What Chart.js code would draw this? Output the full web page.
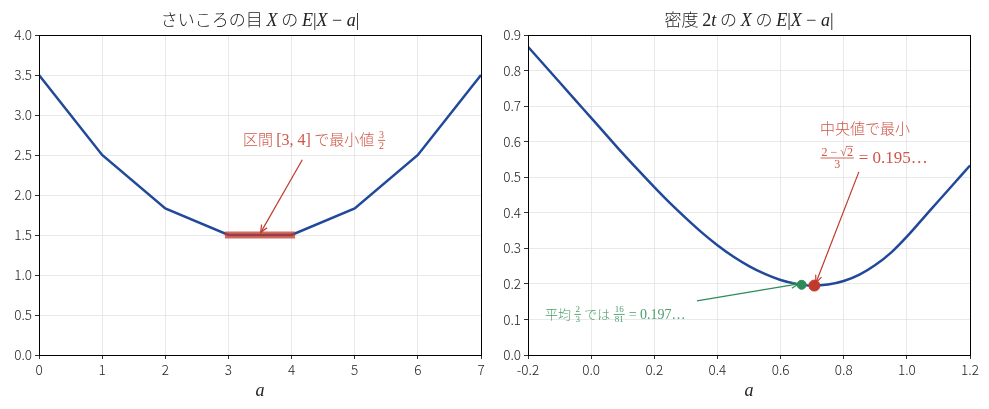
<!DOCTYPE html>
<html>
<head>
<meta charset="utf-8">
<script src="https://cdn.jsdelivr.net/npm/chart.js@4.4.0/dist/chart.umd.min.js"></script>
<style>
    body { margin: 0; background: #fff; }
    .box { position: absolute; top: 0; height: 409px; }
</style>
</head>
<body>
<div class="box" style="left:0;width:494px"><canvas id="left"></canvas></div>
<div class="box" style="left:494px;width:495px"><canvas id="right"></canvas></div>
<script>
// サイコロ: a と E|X-a|
const diceA = [0, 1, 2, 3, 4, 5, 6, 7];
const diceE = [3.5, 2.5, 1.833, 1.5, 1.5, 1.833, 2.5, 3.5];
const diceMinA = [3, 4];
const diceMinE = [1.5, 1.5];
const diceXTicks = [0, 1, 2, 3, 4, 5, 6, 7];
const diceYTicks = [0, 0.5, 1, 1.5, 2, 2.5, 3, 3.5, 4];

// 密度 2t: a と E|X-a|
const densA = [-0.2, -0.15, -0.1, -0.05, 0, 0.05, 0.1, 0.15, 0.2, 0.25, 0.3, 0.35, 0.4, 0.45,
    0.5, 0.55, 0.6, 0.65, 0.7, 0.75, 0.8, 0.85, 0.9, 0.95, 1.0, 1.05, 1.1, 1.15, 1.2];
const densE = [0.867, 0.817, 0.767, 0.717, 0.667, 0.617, 0.567, 0.519, 0.472, 0.427, 0.385, 0.345, 0.309, 0.277,
    0.25, 0.228, 0.211, 0.2, 0.195, 0.198, 0.208, 0.226, 0.253, 0.288, 0.333, 0.383, 0.433, 0.483, 0.533];
const meanPoint = [0.6667, 0.1975];
const medianPoint = [0.7071, 0.1953];
const densXTicks = [-0.2, 0, 0.2, 0.4, 0.6, 0.8, 1.0, 1.2];
const densYTicks = [0, 0.1, 0.2, 0.3, 0.4, 0.5, 0.6, 0.7, 0.8, 0.9];

const BLUE = "#21499a";
const RED = "#c0392b";
const GREEN = "#2e8b57";
const JP = "'Noto Sans CJK JP'";
const SERIF = "'Liberation Serif'";

function pairs(xs, ys) {
    return xs.map((x, i) => ({ x: x, y: ys[i] }));
}

// テキストの並びを描く (文字列 or 分数)
function runWidth(ctx, r) {
    if (r.num) {
        ctx.font = r.font;
        let wn = 0;
        r.num.forEach((s) => { wn += ctx.measureText(s.t).width; });
        let wd = ctx.measureText(r.den).width;
        return Math.max(wn, wd) + 3;
    }
    ctx.font = r.font;
    return ctx.measureText(r.t).width;
}

function drawRuns(ctx, runs, x, y, color, align, axis) {
    let total = 0;
    runs.forEach((r) => { total += runWidth(ctx, r); });
    let cx = align === "center" ? x - total / 2 : x;
    ctx.fillStyle = color;
    ctx.strokeStyle = color;
    ctx.textBaseline = "alphabetic";
    ctx.textAlign = "left";
    runs.forEach((r) => {
        let w = runWidth(ctx, r);
        if (r.num) {
            ctx.font = r.font;
            let bar = y - axis;
            let wn = 0;
            r.num.forEach((s) => { wn += ctx.measureText(s.t).width; });
            let nx = cx + (w - wn) / 2;
            r.num.forEach((s) => {
                let sw = ctx.measureText(s.t).width;
                ctx.fillText(s.t, nx, bar - 2);
                if (s.over) {
                    ctx.lineWidth = 0.8;
                    ctx.beginPath();
                    ctx.moveTo(nx - 1, bar - 2 - r.size * 0.8);
                    ctx.lineTo(nx + sw, bar - 2 - r.size * 0.8);
                    ctx.stroke();
                }
                nx += sw;
            });
            let wd = ctx.measureText(r.den).width;
            ctx.fillText(r.den, cx + (w - wd) / 2, bar + r.size * 0.78 + 1);
            ctx.lineWidth = 0.9;
            ctx.beginPath();
            ctx.moveTo(cx + 0.5, bar);
            ctx.lineTo(cx + w - 0.5, bar);
            ctx.stroke();
        } else {
            ctx.font = r.font;
            ctx.fillText(r.t, cx, y);
        }
        cx += w;
    });
}

function arrow(ctx, x1, y1, x2, y2, color) {
    ctx.strokeStyle = color;
    ctx.lineWidth = 1.2;
    ctx.beginPath();
    ctx.moveTo(x1, y1);
    ctx.lineTo(x2, y2);
    ctx.stroke();
    let ang = Math.atan2(y2 - y1, x2 - x1);
    let len = 8, spread = 0.4;
    ctx.beginPath();
    ctx.moveTo(x2 - len * Math.cos(ang - spread), y2 - len * Math.sin(ang - spread));
    ctx.lineTo(x2, y2);
    ctx.lineTo(x2 - len * Math.cos(ang + spread), y2 - len * Math.sin(ang + spread));
    ctx.stroke();
}

function frameAndLabels(chart, titleRuns) {
    const ctx = chart.ctx;
    const area = chart.chartArea;
    ctx.save();
    ctx.strokeStyle = "#000";
    ctx.lineWidth = 1;
    ctx.strokeRect(Math.round(area.left) + 0.5, Math.round(area.top) + 0.5,
        Math.round(area.right - area.left), Math.round(area.bottom - area.top));
    let mid = (area.left + area.right) / 2;
    drawRuns(ctx, titleRuns, mid, 26, "#222", "center", 5);
    drawRuns(ctx, [{ t: "a", font: "italic 18px " + SERIF }], mid, 396, "#222", "center", 5);
    ctx.restore();
}

function scales(xTicks, yTicks, xmin, xmax, ymax, yWidth, xDigits) {
    const grid = { color: "#e3e3e3", lineWidth: 0.8, tickColor: "#000", tickLength: 4 };
    const tickFont = { family: "Noto Sans CJK JP", size: 13.5, weight: 300 };
    return {
        x: {
            type: "linear", min: xmin, max: xmax,
            border: { display: false },
            grid: grid,
            afterBuildTicks: (s) => { s.ticks = xTicks.map((v) => ({ value: v })); },
            afterFit: (s) => { s.height = 54; },
            ticks: { color: "#222", font: tickFont, padding: 3, callback: (v) => v.toFixed(xDigits) },
        },
        y: {
            type: "linear", min: 0, max: ymax,
            border: { display: false },
            grid: grid,
            afterBuildTicks: (s) => { s.ticks = yTicks.map((v) => ({ value: v })); },
            afterFit: (s) => { s.width = yWidth; },
            ticks: { color: "#222", font: tickFont, padding: 3, callback: (v) => v.toFixed(1) },
        },
    };
}

// 左: サイコロ
const diceTitle = [
    { t: "さいころの目 ", font: "300 17px " + JP },
    { t: "X", font: "italic 18px " + SERIF },
    { t: " の ", font: "300 17px " + JP },
    { t: "E", font: "italic 18px " + SERIF },
    { t: "|", font: "18px " + SERIF },
    { t: "X", font: "italic 18px " + SERIF },
    { t: " − ", font: "18px " + SERIF },
    { t: "a", font: "italic 18px " + SERIF },
    { t: "|", font: "18px " + SERIF },
];

new Chart(document.getElementById("left"), {
    type: "line",
    data: {
        datasets: [
            {
                data: pairs(diceA, diceE),
                borderColor: BLUE, borderWidth: 2.5, pointRadius: 0, order: 2,
            },
            {
                data: pairs(diceMinA, diceMinE),
                borderColor: "rgba(192,57,43,0.75)", borderWidth: 7, borderCapStyle: "square",
                pointRadius: 0, order: 1,
            },
        ],
    },
    options: {
        responsive: true, maintainAspectRatio: false, animation: false,
        layout: { padding: { top: 35, right: 13, left: 0, bottom: 0 } },
        plugins: { legend: { display: false }, tooltip: { enabled: false } },
        scales: scales(diceXTicks, diceYTicks, 0, 7, 4, 39, 0),
    },
    plugins: [{
        id: "decor",
        afterDraw: (chart) => {
            const ctx = chart.ctx, xs = chart.scales.x, ys = chart.scales.y;
            frameAndLabels(chart, diceTitle);
            ctx.save();
            arrow(ctx, xs.getPixelForValue(4.17), ys.getPixelForValue(2.44),
                xs.getPixelForValue(3.51), ys.getPixelForValue(1.53), RED);
            drawRuns(ctx, [
                { t: "区間 ", font: "300 15px " + JP },
                { t: "[3, 4]", font: "16px " + SERIF },
                { t: " で最小値 ", font: "300 15px " + JP },
                { num: [{ t: "3" }], den: "2", font: "10px " + SERIF, size: 10 },
            ], xs.getPixelForValue(3.23), ys.getPixelForValue(2.62), "#cf5546", "left", 5);
            ctx.restore();
        },
    }],
});

// 右: 密度 2t
const densTitle = [
    { t: "密度 ", font: "300 17px " + JP },
    { t: "2", font: "18px " + SERIF },
    { t: "t", font: "italic 18px " + SERIF },
    { t: " の ", font: "300 17px " + JP },
    { t: "X", font: "italic 18px " + SERIF },
    { t: " の ", font: "300 17px " + JP },
    { t: "E", font: "italic 18px " + SERIF },
    { t: "|", font: "18px " + SERIF },
    { t: "X", font: "italic 18px " + SERIF },
    { t: " − ", font: "18px " + SERIF },
    { t: "a", font: "italic 18px " + SERIF },
    { t: "|", font: "18px " + SERIF },
];

new Chart(document.getElementById("right"), {
    type: "line",
    data: {
        datasets: [
            {
                data: pairs(densA, densE),
                borderColor: BLUE, borderWidth: 2.5, pointRadius: 0,
                cubicInterpolationMode: "monotone", order: 3,
            },
            {
                type: "scatter",
                data: [{ x: meanPoint[0], y: meanPoint[1] }],
                backgroundColor: GREEN, borderColor: GREEN, pointRadius: 4.5, order: 2,
            },
            {
                type: "scatter",
                data: [{ x: medianPoint[0], y: medianPoint[1] }],
                backgroundColor: RED, borderColor: RED, pointRadius: 5.5, order: 1,
            },
        ],
    },
    options: {
        responsive: true, maintainAspectRatio: false, animation: false,
        layout: { padding: { top: 35, right: 19, left: 0, bottom: 0 } },
        plugins: { legend: { display: false }, tooltip: { enabled: false } },
        scales: scales(densXTicks, densYTicks, -0.2, 1.2, 0.9, 34, 1),
    },
    plugins: [{
        id: "decor",
        afterDraw: (chart) => {
            const ctx = chart.ctx, xs = chart.scales.x, ys = chart.scales.y;
            frameAndLabels(chart, densTitle);
            ctx.save();
            arrow(ctx, xs.getPixelForValue(0.848), ys.getPixelForValue(0.515),
                xs.getPixelForValue(0.712), ys.getPixelForValue(0.203), RED);
            arrow(ctx, xs.getPixelForValue(0.335), ys.getPixelForValue(0.152),
                xs.getPixelForValue(0.657), ys.getPixelForValue(0.2), GREEN);
            let rx = xs.getPixelForValue(0.725);
            drawRuns(ctx, [{ t: "中央値で最小", font: "300 15px " + JP }],
                rx, ys.getPixelForValue(0.622), "#cf5546", "left", 5);
            drawRuns(ctx, [
                { num: [{ t: "2 − " }, { t: "√" }, { t: "2", over: true }], den: "3", font: "12px " + SERIF, size: 12 },
                { t: " = 0.195…", font: "17px " + SERIF },
            ], rx, ys.getPixelForValue(0.54), "#cf5546", "left", 5);
            drawRuns(ctx, [
                { t: "平均 ", font: "300 13px " + JP },
                { num: [{ t: "2" }], den: "3", font: "9px " + SERIF, size: 9 },
                { t: " では ", font: "300 13px " + JP },
                { num: [{ t: "16" }], den: "81", font: "9px " + SERIF, size: 9 },
                { t: " = 0.197…", font: "14px " + SERIF },
            ], xs.getPixelForValue(-0.146), ys.getPixelForValue(0.1), "#4a9e6c", "left", 5);
            ctx.restore();
        },
    }],
});
</script>
</body>
</html>
